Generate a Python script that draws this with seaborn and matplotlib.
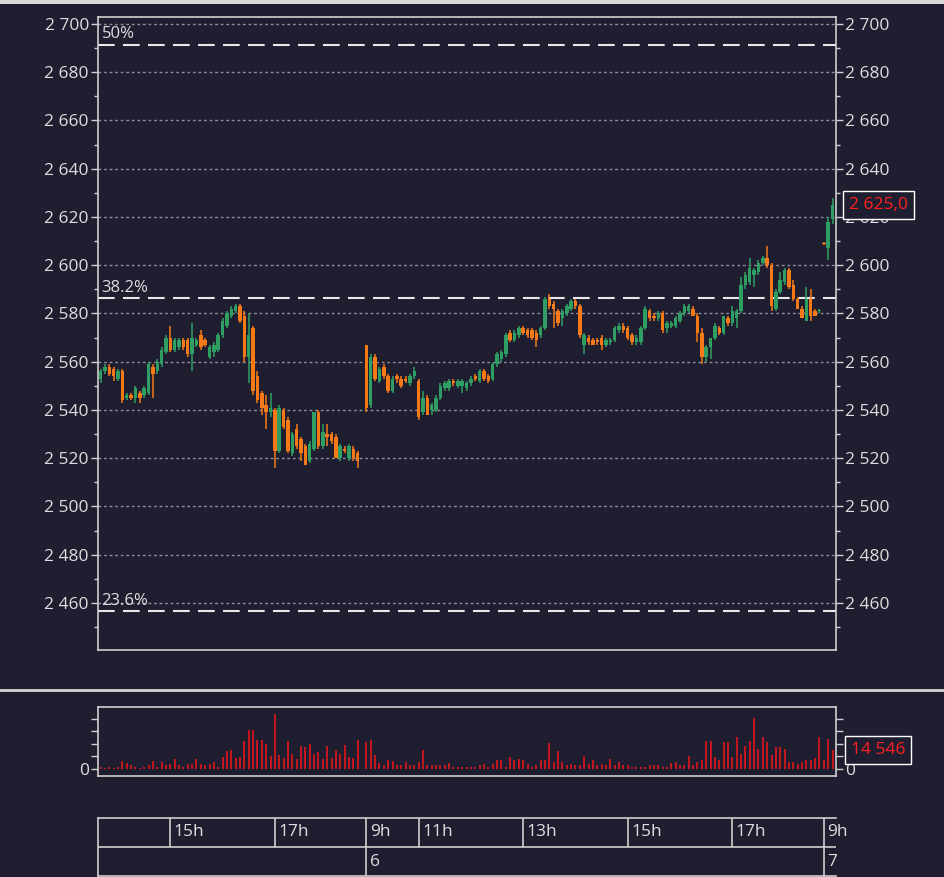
import numpy as np
import pandas as pd
import matplotlib
matplotlib.use("Agg")
import matplotlib.pyplot as plt
import seaborn as sns
from matplotlib.lines import Line2D
from matplotlib.patches import Rectangle
from matplotlib.ticker import MultipleLocator, FixedLocator, FuncFormatter

BG = "#1f1e30"
FG = "#dedede"
UP = "#2f9e62"
DOWN = "#f57a17"
VOL = "#d2161c"
LAST = "#ff2020"
EDGE = "#cfcfcf"

# sessions: (offset on the chart in minutes, session open, first candle)
sessions = [(0, "13:37", "13:40"), (308, "10:00", "10:00"), (833, "10:00", "10:00")]
day_labels = ["", "6", "7"]

# 5-minute candles (open, high, low, close)
d1_ohlc = [
    (2553, 2557, 2551, 2556), (2556, 2559, 2555, 2558), (2558, 2559, 2554, 2555),
    (2557, 2558, 2552, 2554), (2553, 2557, 2552, 2556), (2556, 2557, 2543, 2544),
    (2545, 2547, 2544, 2546), (2546, 2547, 2544, 2545), (2545, 2550, 2543, 2549),
    (2547, 2548, 2543, 2545), (2546, 2550, 2545, 2549), (2547, 2560, 2546, 2559),
    (2558, 2559, 2545, 2555), (2556, 2561, 2555, 2560), (2559, 2566, 2558, 2565),
    (2564, 2571, 2563, 2570), (2570, 2575, 2564, 2565), (2565, 2570, 2564, 2569),
    (2566, 2570, 2565, 2569), (2569, 2570, 2565, 2566), (2569, 2570, 2562, 2563),
    (2563, 2576, 2556, 2570), (2567, 2570, 2566, 2569), (2571, 2573, 2565, 2566),
    (2569, 2570, 2566, 2567), (2562, 2567, 2561, 2566), (2564, 2568, 2562, 2567),
    (2565, 2572, 2564, 2571), (2571, 2578, 2570, 2577), (2575, 2581, 2574, 2580),
    (2579, 2583, 2578, 2582), (2581, 2584, 2580, 2583), (2583, 2584, 2576, 2577),
    (2579, 2581, 2560, 2562), (2562, 2580, 2551, 2571), (2574, 2575, 2546, 2548),
    (2554, 2556, 2543, 2544), (2547, 2548, 2538, 2541), (2542, 2546, 2532, 2539),
    (2539, 2547, 2537, 2541), (2540, 2541, 2516, 2523), (2523, 2542, 2522, 2541),
    (2540, 2541, 2532, 2533), (2536, 2537, 2522, 2523), (2522, 2531, 2521, 2530),
    (2532, 2534, 2524, 2525), (2528, 2529, 2519, 2522), (2525, 2526, 2517, 2517),
    (2519, 2527, 2518, 2526), (2524, 2539, 2523, 2539), (2539, 2540, 2524, 2525),
    (2525, 2534, 2524, 2531), (2530, 2534, 2525, 2529), (2530, 2531, 2526, 2527),
    (2529, 2530, 2520, 2520), (2520, 2526, 2519, 2525), (2524, 2525, 2522, 2523),
    (2520, 2526, 2519, 2525), (2524, 2525, 2519, 2520), (2522, 2523, 2516, 2519),
]
d2_ohlc = [
    (2567, 2567, 2539, 2541), (2542, 2563, 2541, 2562), (2562, 2563, 2552, 2553),
    (2552, 2558, 2551, 2557), (2558, 2559, 2553, 2554), (2554, 2555, 2547, 2548),
    (2548, 2554, 2547, 2553), (2554, 2555, 2551, 2553), (2553, 2554, 2549, 2550),
    (2553, 2554, 2551, 2552), (2551, 2555, 2550, 2554), (2554, 2558, 2553, 2556),
    (2552, 2553, 2536, 2537), (2539, 2548, 2538, 2545), (2545, 2546, 2538, 2538),
    (2540, 2543, 2538, 2542), (2540, 2546, 2539, 2545), (2545, 2551, 2544, 2550),
    (2549, 2552, 2548, 2551), (2549, 2553, 2548, 2552), (2552, 2553, 2550, 2551),
    (2550, 2553, 2549, 2552), (2550, 2553, 2547, 2552), (2549, 2552, 2548, 2551),
    (2551, 2554, 2550, 2553), (2554, 2555, 2552, 2553), (2552, 2557, 2551, 2556),
    (2556, 2557, 2552, 2553), (2554, 2555, 2551, 2552), (2553, 2560, 2552, 2559),
    (2559, 2564, 2558, 2563), (2561, 2565, 2560, 2564), (2563, 2572, 2562, 2571),
    (2572, 2573, 2568, 2569), (2569, 2573, 2568, 2572), (2571, 2575, 2570, 2574),
    (2574, 2575, 2571, 2572), (2573, 2574, 2570, 2571), (2573, 2574, 2569, 2570),
    (2572, 2573, 2566, 2569), (2571, 2575, 2570, 2574), (2574, 2587, 2573, 2586),
    (2586, 2588, 2582, 2583), (2584, 2585, 2574, 2582), (2581, 2582, 2575, 2576),
    (2578, 2582, 2575, 2581), (2580, 2584, 2579, 2583), (2582, 2586, 2581, 2585),
    (2585, 2586, 2582, 2583), (2583, 2584, 2570, 2571), (2567, 2572, 2563, 2571),
    (2570, 2571, 2567, 2568), (2569, 2570, 2567, 2567), (2569, 2570, 2567, 2568),
    (2570, 2571, 2565, 2567), (2567, 2570, 2566, 2569), (2568, 2570, 2567, 2569),
    (2569, 2575, 2568, 2574), (2573, 2576, 2572, 2575), (2575, 2576, 2572, 2573),
    (2574, 2575, 2569, 2570), (2571, 2572, 2567, 2568), (2568, 2571, 2567, 2570),
    (2568, 2575, 2567, 2574), (2574, 2583, 2573, 2582), (2581, 2582, 2577, 2578),
    (2579, 2580, 2577, 2578), (2578, 2581, 2577, 2580), (2580, 2581, 2572, 2573),
    (2574, 2577, 2572, 2576), (2575, 2577, 2574, 2576), (2575, 2579, 2574, 2578),
    (2577, 2581, 2576, 2580), (2580, 2584, 2579, 2583), (2581, 2584, 2580, 2583),
    (2582, 2583, 2579, 2579), (2579, 2580, 2568, 2572), (2572, 2574, 2559, 2562),
    (2562, 2567, 2560, 2566), (2566, 2570, 2561, 2570), (2570, 2576, 2569, 2575),
    (2574, 2575, 2571, 2572), (2572, 2579, 2571, 2579), (2578, 2579, 2575, 2576),
    (2576, 2583, 2575, 2581), (2578, 2582, 2574, 2581), (2581, 2595, 2580, 2592),
    (2592, 2597, 2590, 2596), (2593, 2603, 2592, 2599), (2596, 2599, 2591, 2598),
    (2597, 2602, 2596, 2601), (2601, 2604, 2600, 2603), (2603, 2608, 2599, 2600),
    (2600, 2601, 2581, 2583), (2582, 2590, 2581, 2589), (2589, 2597, 2588, 2594),
    (2593, 2599, 2592, 2598), (2598, 2599, 2590, 2591), (2592, 2594, 2585, 2586),
    (2586, 2587, 2582, 2582), (2582, 2583, 2578, 2578), (2577, 2591, 2577, 2586),
    (2586, 2590, 2577, 2579), (2581, 2582, 2579, 2579), (2581, 2582, 2580, 2581),
]
d3_ohlc = [(2609, 2609.5, 2608.5, 2608.8), (2607, 2620, 2602, 2618), (2619, 2628, 2617, 2625)]

d1_vol = [
    1300, 500, 1300, 500, 1300, 5800, 4700, 2600, 1300, 500,
    1300, 2600, 5800, 1300, 5200, 2600, 3900, 7900, 2600, 1300,
    3900, 3900, 7900, 3900, 2600, 3900, 5200, 1300, 9200, 14400,
    15200, 8400, 9200, 22300, 30900, 30900, 23100, 23100, 19700, 10000,
    44000, 10500, 8400, 22300, 11800, 7900, 17800, 17000, 19700, 11800,
    13100, 7900, 18300, 8400, 15200, 11800, 18900, 9200, 8400, 23100,
]
d2_vol = [
    21000, 23100, 10500, 4700, 2600, 6600, 5800, 2600, 2600, 5200,
    2600, 2600, 5200, 15200, 3100, 2600, 2600, 2600, 3100, 4700,
    1300, 1300, 1300, 1300, 1300, 1300, 2600, 3900, 1300, 3900,
    6600, 6600, 1300, 9200, 6600, 7900, 6600, 3900, 1300, 3100,
    6600, 6600, 20400, 5200, 14400, 5200, 2600, 3900, 2600, 2600,
    10000, 3900, 6600, 2600, 3900, 2600, 7900, 2600, 5200, 2600,
    2600, 1300, 1300, 1300, 1300, 3100, 2600, 3100, 1300, 1300,
    4700, 5200, 2600, 3100, 10000, 2600, 5200, 6600, 22300, 22300,
    9200, 6600, 21000, 21000, 9200, 24900, 11800, 18300, 22300, 40600,
    15700, 24900, 21000, 10500, 17000, 17000, 15700, 5200, 5200, 3900,
    5200, 6600, 6600, 8400, 24900,
]
d3_vol = [6600, 23600, 14546]

fib_levels = [2691.5, 2586.3, 2456.7]
fib_labels = ["50%", "38.2%", "23.6%"]

# (session, time, label) for the hour row of the time scale
hour_ticks = [(0, "15:00", "15h"), (0, "17:00", "17h"), (1, "10:00", "9h"),
              (1, "11:00", "11h"), (1, "13:00", "13h"), (1, "15:00", "15h"),
              (1, "17:00", "17h"), (2, "10:00", "9h")]


def to_min(s):
    h, m = s.split(":")
    return int(h) * 60 + int(m)


def chart_x(day, hhmm):
    off, open_, _ = sessions[day]
    return off + to_min(hhmm) - to_min(open_)


def fmt_num(v):
    return f"{int(round(v)):,}".replace(",", " ")


rows = []
for day, (ohlc, vol) in enumerate([(d1_ohlc, d1_vol), (d2_ohlc, d2_vol), (d3_ohlc, d3_vol)]):
    x0 = chart_x(day, sessions[day][2])
    for k, ((o, h, l, c), v) in enumerate(zip(ohlc, vol)):
        rows.append(dict(x=x0 + 5 * k, open=o, high=h, low=l, close=c, volume=v))
df = pd.DataFrame(rows)

sns.set_theme(style="dark")
plt.rcParams.update({
    "axes.facecolor": BG, "figure.facecolor": BG, "savefig.facecolor": BG,
    "axes.edgecolor": EDGE, "axes.linewidth": 1.2, "axes.grid": False,
    "text.color": FG, "xtick.color": FG, "ytick.color": FG,
    "font.size": 12.5,
})
plt.rcParams["font.family"] = ["Open Sans", "DejaVu Sans"]

W, H = 944, 877
fig = plt.figure(figsize=(W / 100, H / 100), dpi=100)


def rect(x0, y0, x1, y1):
    return [x0 / W, 1 - y1 / H, (x1 - x0) / W, (y1 - y0) / H]


ax = fig.add_axes(rect(98, 17, 836, 650))
axv = fig.add_axes(rect(98, 707, 836, 776))
axt = fig.add_axes(rect(98, 818, 836, 876))
XLIM = (0, 847)

# ---- price panel
up = df["close"] >= df["open"]
colors = np.where(up, UP, DOWN)
ax.vlines(df["x"], df["low"], df["high"], colors=colors, lw=1.1, zorder=3)
body_lo = np.minimum(df["open"], df["close"])
body_h = np.maximum((df["close"] - df["open"]).abs(), 0.5)
ax.bar(df["x"], body_h, bottom=body_lo, width=4.0, color=colors, lw=0, zorder=4)

ax.set_xlim(*XLIM)
ax.set_ylim(2440.5, 2702.9)
ax.set_xticks([])
ax.yaxis.set_major_locator(MultipleLocator(20))
ax.yaxis.set_minor_locator(MultipleLocator(10))
ax.yaxis.set_major_formatter(FuncFormatter(lambda v, p: fmt_num(v)))
ax.tick_params(axis="y", which="both", left=True, right=True, labelleft=True,
               labelright=True, direction="out", color=EDGE, labelsize=12.5)
ax.tick_params(axis="y", which="major", length=5, width=1, pad=1.5)
ax.tick_params(axis="y", which="minor", length=3, width=1)
ax.grid(axis="y", which="major", color="#8c8c9a", lw=1, ls=(0, (2, 2)))
for s in ax.spines.values():
    s.set_visible(True)
    s.set_color(EDGE)

for lvl, lab in zip(fib_levels, fib_labels):
    ax.axhline(lvl, color="#e8e8e8", lw=1.5, ls=(0, (8, 4)), zorder=2)
    ax.annotate(lab, xy=(0, lvl), xycoords=ax.get_yaxis_transform(),
                xytext=(2.5, 1.5), textcoords="offset points",
                ha="left", va="bottom", color=FG, fontsize=12)

last_close = df["close"].iloc[-1]
ax.annotate(f"{fmt_num(int(last_close))},{int(round((last_close % 1) * 10))}",
            xy=(1, last_close), xycoords=ax.get_yaxis_transform(),
            xytext=(9.5, 0), textcoords="offset points", ha="left", va="center",
            color=LAST, fontsize=12.5, annotation_clip=False, zorder=10,
            bbox=dict(boxstyle="square,pad=0.35", fc=BG, ec="white", lw=1))

# ---- volume panel
axv.vlines(df["x"], 0, df["volume"], colors=VOL, lw=1.3)
axv.set_xlim(*XLIM)
axv.set_ylim(-5900, 49200)
axv.set_xticks([])
axv.yaxis.set_major_locator(FixedLocator([0, 10000, 20000, 30000, 40000]))
axv.yaxis.set_major_formatter(FuncFormatter(lambda v, p: "0" if v == 0 else ""))
axv.tick_params(axis="y", left=True, right=True, labelleft=True, labelright=True,
                direction="out", length=5, width=1, color=EDGE, pad=1.5, labelsize=12.5)
for s in axv.spines.values():
    s.set_visible(True)
    s.set_color(EDGE)
last_vol = df["volume"].iloc[-1]
axv.annotate(fmt_num(last_vol), xy=(1, last_vol), xycoords=axv.get_yaxis_transform(),
             xytext=(10.5, 0), textcoords="offset points", ha="left", va="center",
             color=LAST, fontsize=12.5, annotation_clip=False, zorder=10,
             bbox=dict(boxstyle="square,pad=0.35", fc=BG, ec="white", lw=1))

# ---- time scale
axt.set_xlim(*XLIM)
axt.set_ylim(0, 2)
axt.set_xticks([])
axt.set_yticks([])
for name, s in axt.spines.items():
    s.set_visible(name != "right")
    s.set_color(EDGE)
axt.axhline(1, color=EDGE, lw=1.2)
hx = [chart_x(d, t) for d, t, _ in hour_ticks]
axt.vlines(hx, 1, 2, colors=EDGE, lw=1.2)
for x, (_, _, lab) in zip(hx, hour_ticks):
    axt.annotate(lab, xy=(x, 1.5), xytext=(2.5, 0), textcoords="offset points",
                 ha="left", va="center", color=FG, fontsize=12.5)
for day, lab in enumerate(day_labels):
    if lab:
        dx = sessions[day][0]
        axt.vlines(dx, 0, 1, colors=EDGE, lw=1.2)
        axt.annotate(lab, xy=(dx, 0.5), xytext=(2.5, 0), textcoords="offset points",
                     ha="left", va="center", color=FG, fontsize=12.5)

# panel separator and window strip
fig.add_artist(Line2D([0, 1], [1 - 690 / H] * 2, color="#d4d4d4", lw=2))
fig.add_artist(Rectangle((0, 1 - 4 / H), 1, 4 / H, color="#d9d9d9", lw=0))

fig.savefig("out.png", dpi=100, facecolor=BG)
